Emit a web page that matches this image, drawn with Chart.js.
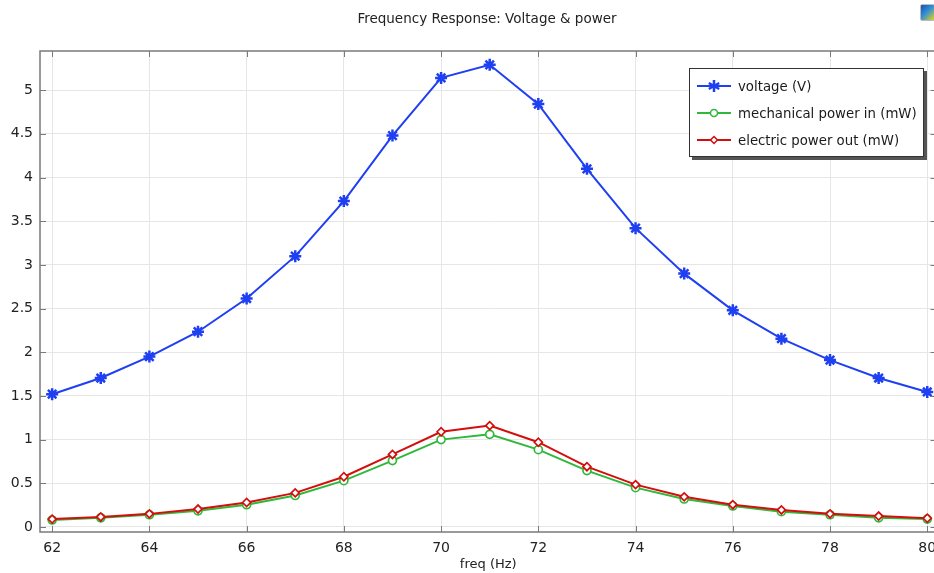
<!DOCTYPE html>
<html>
<head>
<meta charset="utf-8">
<title>Frequency Response: Voltage & power</title>
<script src="https://cdn.jsdelivr.net/npm/chart.js@4"></script>
<style>
  html, body { margin: 0; padding: 0; background: #fff; overflow: hidden; }
  #wrap { position: relative; width: 934px; height: 573px; overflow: hidden; }
  #freqChart { position: absolute; left: 0; top: 0; }
  #title {
    position: absolute; left: 287px; top: 10px; width: 400px; text-align: center;
    font: 13.5px "DejaVu Sans", sans-serif; color: #222;
  }
  #legend {
    position: absolute; left: 689px; top: 68px; width: 233px; height: 87px;
    border: 1px solid #333; background: #fff;
    box-shadow: 3px 3px 0 #555;
    font: 13.3px "DejaVu Sans", sans-serif; color: #1a1a1a;
  }
  #legend .row { position: absolute; left: 7px; height: 20px; display: flex; align-items: center; white-space: nowrap; }
  #legend svg { margin-right: 7px; }
  #icon {
    position: absolute; left: 920px; top: 4px; width: 13px; height: 15px;
    border: 1px solid #bbb; border-radius: 2px;
    background: linear-gradient(135deg, #1d4fb0 0%, #2f8fd8 45%, #e8d21a 100%);
  }
</style>
</head>
<body>
<div id="wrap">
  <canvas id="freqChart" width="945" height="573"></canvas>
  <div id="title">Frequency Response: Voltage &amp; power</div>
  <div id="legend"></div>
  <div id="icon"></div>
</div>
<script>
const freq = [62, 63, 64, 65, 66, 67, 68, 69, 70, 71, 72, 73, 74, 75, 76, 77, 78, 79, 80];
const voltage = [1.52, 1.705, 1.95, 2.235, 2.615, 3.10, 3.73, 4.48, 5.14, 5.29, 4.84, 4.10, 3.42, 2.90, 2.48, 2.155, 1.91, 1.705, 1.545];
const powerIn = [0.08, 0.105, 0.14, 0.185, 0.255, 0.36, 0.53, 0.76, 1.0, 1.06, 0.885, 0.645, 0.45, 0.32, 0.24, 0.175, 0.14, 0.105, 0.09];
const powerOut = [0.09, 0.115, 0.15, 0.205, 0.28, 0.39, 0.575, 0.83, 1.09, 1.16, 0.97, 0.69, 0.485, 0.345, 0.255, 0.195, 0.15, 0.125, 0.10];
const xTicks = [62, 64, 66, 68, 70, 72, 74, 76, 78, 80];
const yTicks = [0, 0.5, 1, 1.5, 2, 2.5, 3, 3.5, 4, 4.5, 5];

const blue = "#1f3ff2";
const green = "#2fb83a";
const red = "#d40d0d";
const fontFamily = '"DejaVu Sans", sans-serif';

function toPoints(ys) {
  return freq.map((f, i) => ({ x: f, y: ys[i] }));
}

// frame round the plot plus the small inner tick marks
const framePlugin = {
  id: "frame",
  afterDatasetsDraw(chart) {
    const ctx = chart.ctx;
    const { left, top, right, bottom } = chart.chartArea;
    const xs = chart.scales.x;
    const ys = chart.scales.y;
    ctx.save();
    ctx.strokeStyle = "#7a7a7a";
    ctx.lineWidth = 1.5;
    ctx.strokeRect(left, top, right - left, bottom - top);
    ctx.lineWidth = 1;
    ctx.beginPath();
    xTicks.forEach(v => {
      const px = Math.round(xs.getPixelForValue(v)) + 0.5;
      ctx.moveTo(px, bottom); ctx.lineTo(px, bottom - 6);
      ctx.moveTo(px, top); ctx.lineTo(px, top + 6);
    });
    yTicks.forEach(v => {
      const py = Math.round(ys.getPixelForValue(v)) + 0.5;
      ctx.moveTo(left, py); ctx.lineTo(left + 6, py);
      ctx.moveTo(right, py); ctx.lineTo(right - 6, py);
    });
    ctx.stroke();
    ctx.restore();
  }
};

const datasets = [
  {
    label: "voltage (V)",
    data: toPoints(voltage),
    borderColor: blue,
    backgroundColor: blue,
    borderWidth: 2,
    pointStyle: "star",
    pointRadius: 6,
    pointBorderWidth: 2.5,
    order: 1
  },
  {
    label: "mechanical power in (mW)",
    data: toPoints(powerIn),
    borderColor: green,
    backgroundColor: "#fff",
    borderWidth: 2,
    pointStyle: "circle",
    pointRadius: 4,
    pointBorderWidth: 1.7,
    order: 3
  },
  {
    label: "electric power out (mW)",
    data: toPoints(powerOut),
    borderColor: red,
    backgroundColor: "#fff",
    borderWidth: 2,
    pointStyle: "rectRot",
    pointRadius: 4,
    pointBorderWidth: 1.7,
    order: 2
  }
];

new Chart(document.getElementById("freqChart"), {
  type: "line",
  data: { datasets },
  options: {
    responsive: false,
    animation: false,
    devicePixelRatio: 1,
    layout: { padding: { left: 0, right: 3, top: 51, bottom: 0 } },
    plugins: {
      legend: { display: false },
      tooltip: { enabled: false },
      title: { display: false }
    },
    scales: {
      x: {
        type: "linear",
        min: 61.75,
        max: 80.19,
        afterBuildTicks: s => { s.ticks = xTicks.map(v => ({ value: v })); },
        afterFit: s => { s.height = 41; },
        grid: { color: "#e6e6e6", lineWidth: 1, drawTicks: false },
        border: { display: false },
        ticks: {
          color: "#222",
          padding: 8,
          maxRotation: 0,
          font: { family: fontFamily, size: 14 }
        },
        title: {
          display: true,
          text: "freq (Hz)",
          color: "#222",
          padding: { top: 0, bottom: 1 },
          font: { family: fontFamily, size: 13 }
        }
      },
      y: {
        type: "linear",
        min: -0.0575,
        max: 5.448,
        afterBuildTicks: s => { s.ticks = yTicks.map(v => ({ value: v })); },
        afterFit: s => { s.width = 40; },
        grid: { color: "#e6e6e6", lineWidth: 1, drawTicks: false },
        border: { display: false },
        ticks: {
          color: "#222",
          padding: 7,
          callback: v => String(v),
          font: { family: fontFamily, size: 14 }
        }
      }
    }
  },
  plugins: [framePlugin]
});

// legend built from the dataset styles
const legend = document.getElementById("legend");
const icons = {
  star: c => `<path d="M17 4v12M11.8 7l10.4 6M11.8 13l10.4-6" stroke="${c}" stroke-width="2.5"/>`,
  circle: c => `<circle cx="17" cy="10" r="3.5" fill="#fff" stroke="${c}" stroke-width="1.5"/>`,
  rectRot: c => `<path d="M17 6.5l3.5 3.5-3.5 3.5-3.5-3.5z" fill="#fff" stroke="${c}" stroke-width="1.5"/>`
};
datasets.forEach((d, i) => {
  const row = document.createElement("div");
  row.className = "row";
  row.style.top = (7 + i * 27) + "px";
  row.innerHTML = `<svg width="34" height="20"><line x1="0" y1="10" x2="34" y2="10" stroke="${d.borderColor}" stroke-width="2"/>${icons[d.pointStyle](d.borderColor)}</svg><span>${d.label}</span>`;
  legend.appendChild(row);
});
</script>
</body>
</html>
